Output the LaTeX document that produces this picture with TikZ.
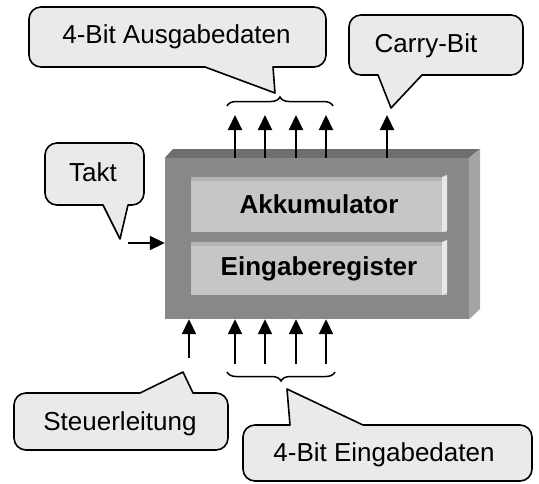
\documentclass[tikz,border=0pt]{standalone}
\usepackage{fontspec}
\setmainfont{Liberation Sans}
\usetikzlibrary{arrows.meta,decorations.pathreplacing}
\definecolor{bubblegray}{HTML}{EAEAEA}
\definecolor{facegray}{HTML}{888888}
\definecolor{topgray}{HTML}{6E6E6E}
\definecolor{sidegray}{HTML}{A4A4A4}
\definecolor{panelgray}{HTML}{C6C6C6}
\definecolor{panelline}{HTML}{B5B5B5}
\definecolor{hilite}{HTML}{E8E8E8}

\begin{document}
\begin{tikzpicture}[x=1pt,y=-1pt]
	\tikzset{bubble/.style={draw=black,fill=bubblegray,line width=1.6pt,line join=round},
		txt/.style={font=\fontsize{26}{30}\selectfont,inner sep=0pt,anchor=base},
		sig/.style={-{Triangle[width=14pt,length=15pt]},line width=2pt},
		bracket/.style={decorate,decoration={brace,amplitude=9pt},line width=1.5pt},
		panel/.style={fill=panelgray,minimum width=256pt,inner sep=0pt,
			font=\bfseries\fontsize{26}{30}\selectfont}}

\useasboundingbox (0,0) rectangle (539,483);

% Rechenwerk
\node[fill=facegray,minimum width=304pt,minimum height=161pt,inner sep=0pt] (box) at (317,238.5) {};
\fill[topgray] (box.north west) -- (173,149) -- (480,149) -- (box.north east) -- cycle;
\fill[sidegray] (box.north east) -- (480,149) -- (480,309) -- (box.south east) -- cycle;

\node[panel,minimum height=55pt] (akku) at (319,204.5) {Akkumulator};
\node[panel,minimum height=53pt] (ereg) at (319,268.5) {Eingaberegister};
\fill[panelline] (akku.north west) rectangle (442,181);
\fill[panelline] (ereg.north west) rectangle (442,246);
\fill[hilite] (442,177) -- (447,175) -- (447,230) -- (442,232) -- cycle;
\fill[hilite] (442,242) -- (447,240) -- (447,293) -- (442,295) -- cycle;

% Sprechblasen
\draw[bubble] (120,239) -- (103,205) [rounded corners=12] -- (45,205) -- (45,143)
	-- (144,143) -- (144,205) [sharp corners] -- (128,205) -- cycle;
\draw[bubble] (275,93) -- (205,67) [rounded corners=12] -- (29,67) -- (29,7)
	-- (326,7) -- (326,67) [sharp corners] -- (273,67) -- cycle;
\draw[bubble] (391,108) -- (378,75) [rounded corners=12] -- (349,75) -- (349,15)
	-- (523,15) -- (523,75) [sharp corners] -- (422,75) -- cycle;
\draw[bubble] (183,372) -- (193,393) [rounded corners=12] -- (228,393) -- (228,450)
	-- (14,450) -- (14,393) [sharp corners] -- (140,393) -- cycle;
\draw[bubble] (287,389) -- (363,425) [rounded corners=12] -- (532,425) -- (532,481)
	-- (243,481) -- (243,425) [sharp corners] -- (290,425) -- cycle;

\node[txt] (takt) at (93,181) {Takt};
\node[txt] (ausg) at (176.5,43) {4-Bit Ausgabedaten};
\node[txt] (carrytxt) at (426,52) {Carry-Bit};
\node[txt] (steuer) at (120,430) {Steuerleitung};
\node[txt] (eing) at (384,461.5) {4-Bit Eingabedaten};

% Leitungen
\foreach \x [count=\i] in {235,265,296,326} {
	\coordinate (out\i) at (\x,115);
	\coordinate (in\i) at (\x,364);
	\draw[sig] (box.north -| out\i) -- (out\i);
	\draw[sig] (in\i) -- (box.south -| in\i);
}
\coordinate (carry) at (387,115);
\coordinate (ctrl) at (189,358);
\coordinate (clk) at (128,243);
\draw[sig] (box.north -| carry) -- (carry);
\draw[sig] (ctrl) -- (box.south -| ctrl);
\draw[sig] (clk) -- (box.west |- clk);

% Klammern
\coordinate (ob1) at (227,106);
\coordinate (ob2) at (333,106);
\coordinate (ib1) at (335,372);
\coordinate (ib2) at (227,372);
\draw[bracket] (ob1) -- (ob2);
\draw[bracket] (ib1) -- (ib2);
\end{tikzpicture}
\end{document}
